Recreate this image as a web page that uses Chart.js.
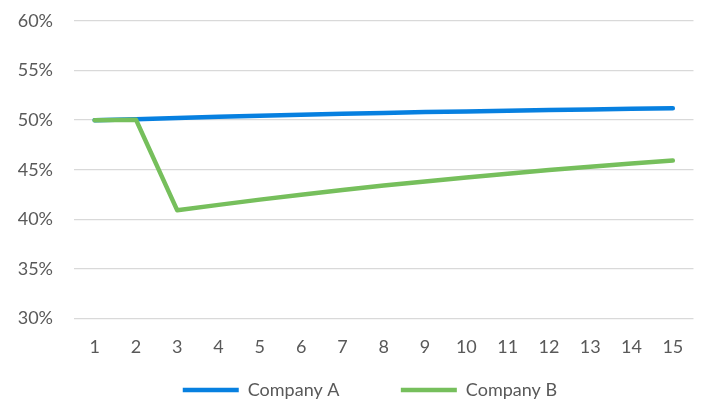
<!DOCTYPE html>
<html>
<head>
<meta charset="utf-8">
<script src="https://cdn.jsdelivr.net/npm/chart.js@4"></script>
<style>
  html, body { margin: 0; padding: 0; background: #fff; overflow: hidden; }
  #wrap { width: 701px; height: 402px; overflow: hidden; }
</style>
</head>
<body>
<div id="wrap"><canvas id="chart" width="701" height="409"></canvas></div>
<script>
// Two companies, share over 15 periods
const categories = ['1', '2', '3', '4', '5', '6', '7', '8', '9', '10', '11', '12', '13', '14', '15'];
const seriesNames = ['Company A', 'Company B'];
const companyA = [50.0, 50.1, 50.22, 50.33, 50.44, 50.54, 50.64, 50.73, 50.81, 50.88, 50.95, 51.02, 51.08, 51.14, 51.2];
const companyB = [50.0, 50.05, 40.9, 41.45, 41.98, 42.48, 42.95, 43.4, 43.82, 44.22, 44.6, 44.96, 45.3, 45.62, 45.92];
const yMin = 30, yMax = 60, yStep = 5;

const textColor = '#595959';
const gridColor = '#d9d9d9';
const font = { family: 'Lato', size: 18 };

Chart.defaults.font.family = font.family;
Chart.defaults.color = textColor;

new Chart(document.getElementById('chart'), {
    type: 'line',
    data: {
        labels: categories,
        datasets: [{
            label: seriesNames[0],
            data: companyA,
            borderColor: '#0780e0',
            backgroundColor: '#0780e0',
            borderWidth: 4.5,
            borderCapStyle: 'round',
            borderJoinStyle: 'round',
            pointRadius: 0,
            tension: 0,
            order: 1
        }, {
            label: seriesNames[1],
            data: companyB,
            borderColor: '#76bf5c',
            backgroundColor: '#76bf5c',
            borderWidth: 4.5,
            borderCapStyle: 'round',
            borderJoinStyle: 'round',
            pointRadius: 0,
            tension: 0,
            order: 0
        }]
    },
    options: {
        responsive: false,
        animation: false,
        layout: {
            padding: { top: 21, left: 10, right: 7, bottom: 0 }
        },
        plugins: {
            legend: {
                position: 'bottom',
                fullSize: false,
                labels: {
                    font: font,
                    color: textColor,
                    usePointStyle: true,
                    pointStyle: 'line',
                    pointStyleWidth: 56,
                    padding: 6,
                    sort: function (a, b) { return a.datasetIndex - b.datasetIndex; },
                    generateLabels: function (chart) {
                        const items = Chart.defaults.plugins.legend.labels.generateLabels(chart);
                        // wider gap after the first entry, some slack after the last
                        items.forEach(function (it) {
                            it.text = it.text + (it.datasetIndex === 0 ? '            ' : '      ');
                        });
                        return items;
                    }
                }
            },
            tooltip: { enabled: false }
        },
        scales: {
            x: {
                offset: true,
                grid: { display: false, drawTicks: false },
                border: { display: false },
                ticks: { font: font, color: textColor, padding: 17.5, maxRotation: 0 }
            },
            y: {
                min: yMin,
                max: yMax,
                grid: { color: gridColor, lineWidth: 1.3, drawTicks: false },
                border: { display: false },
                ticks: {
                    stepSize: yStep,
                    font: font,
                    color: textColor,
                    padding: 21,
                    callback: function (v) { return v + '%'; }
                },
                afterFit: function (scale) {
                    scale.width = 64;
                    // tick padding is only meant horizontally here
                    scale.paddingTop = 0;
                    scale.paddingBottom = 0;
                }
            }
        }
    }
});
</script>
</body>
</html>
